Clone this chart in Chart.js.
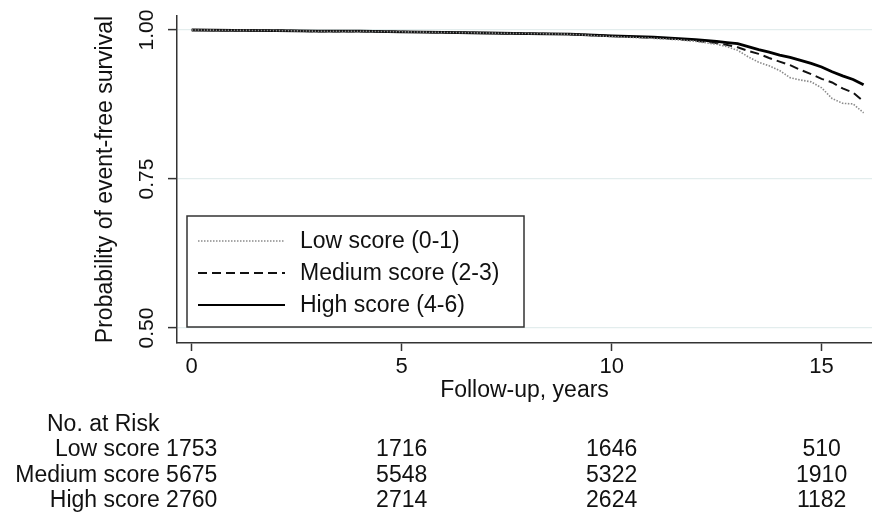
<!DOCTYPE html>
<html>
<head>
<meta charset="utf-8">
<script src="https://cdn.jsdelivr.net/npm/chart.js@4.4.1/dist/chart.umd.min.js"></script>
<style>
  html, body { margin: 0; padding: 0; background: #fff; }
  #chart { display: block; }
</style>
</head>
<body>
<canvas id="chart" width="872" height="513"></canvas>
<script>
// Follow-up times (years) at which the curves were read
const years = [0, 1, 2, 3, 4, 5, 6, 7, 8, 9, 10, 11, 11.5, 12, 12.5, 12.75, 13, 13.25, 13.5, 13.75, 14, 14.25, 14.5, 14.75, 15, 15.25, 15.5, 15.75, 16]

const lowScore = [1.000, 0.9995, 0.999, 0.998, 0.998, 0.997, 0.996, 0.995, 0.994, 0.993, 0.989, 0.986, 0.984, 0.981, 0.976, 0.972, 0.966, 0.955, 0.946, 0.940, 0.932, 0.920, 0.916, 0.913, 0.903, 0.885, 0.877, 0.876, 0.861]
const mediumScore = [1.000, 0.9995, 0.999, 0.998, 0.998, 0.997, 0.996, 0.995, 0.994, 0.993, 0.990, 0.987, 0.985, 0.982, 0.978, 0.975, 0.971, 0.965, 0.960, 0.953, 0.947, 0.941, 0.933, 0.926, 0.918, 0.912, 0.902, 0.895, 0.880]
const highScore = [1.000, 0.9995, 0.999, 0.998, 0.998, 0.997, 0.996, 0.995, 0.994, 0.993, 0.990, 0.988, 0.986, 0.984, 0.981, 0.979, 0.977, 0.972, 0.967, 0.963, 0.958, 0.954, 0.949, 0.944, 0.938, 0.930, 0.923, 0.917, 0.908]

const seriesLabels = ['Low score (0-1)', 'Medium score (2-3)', 'High score (4-6)']

const xTicks = [0, 5, 10, 15]
const yTicks = [0.5, 0.75, 1.0]

// Number at risk table
const riskTimes = [0, 5, 10, 15]
const riskGroups = ['Low score', 'Medium score', 'High score']
const riskLow = [1753, 1716, 1646, 510]
const riskMedium = [5675, 5548, 5322, 1910]
const riskHigh = [2760, 2714, 2624, 1182]

const FONT = "'Liberation Sans', Arial, Helvetica, sans-serif"

const toPoints = (vals) => years.map((t, i) => ({ x: t, y: vals[i] }))

// Legend drawn inside the plot, Stata style
const boxLegend = {
  id: 'boxLegend',
  afterDatasetsDraw(chart) {
    const ctx = chart.ctx
    const box = { x: 187, y: 216, w: 337, h: 111 }
    ctx.save()
    ctx.fillStyle = '#fff'
    ctx.fillRect(box.x, box.y, box.w, box.h)
    ctx.strokeStyle = '#333'
    ctx.lineWidth = 1.5
    ctx.strokeRect(box.x, box.y, box.w, box.h)
    ctx.font = '23px ' + FONT
    ctx.textBaseline = 'middle'
    ctx.fillStyle = '#111'
    chart.data.datasets.forEach((ds, i) => {
      const y = box.y + 25 + i * 32
      ctx.beginPath()
      ctx.strokeStyle = ds.borderColor
      ctx.lineWidth = Math.min(ds.borderWidth, 2)
      ctx.setLineDash(ds.borderDash || [])
      ctx.moveTo(198, y)
      ctx.lineTo(285, y)
      ctx.stroke()
      ctx.setLineDash([])
      ctx.fillText(ds.label, 300, y + 1)
    })
    ctx.restore()
  }
}

// "No. at Risk" table under the axis, aligned with the x scale
const riskTable = {
  id: 'riskTable',
  afterDraw(chart) {
    const ctx = chart.ctx
    const x = chart.scales.x
    const rows = [riskLow, riskMedium, riskHigh]
    ctx.save()
    ctx.font = '23px ' + FONT
    ctx.fillStyle = '#111'
    ctx.textBaseline = 'alphabetic'
    ctx.textAlign = 'left'
    ctx.fillText('No. at Risk', 47, 431)
    rows.forEach((row, r) => {
      const y = 456 + r * 25.5
      row.forEach((n, c) => {
        const px = x.getPixelForValue(riskTimes[c])
        ctx.textAlign = 'center'
        ctx.fillText(String(n), px, y)
        if (c === 0) {
          const half = ctx.measureText(String(n)).width / 2
          ctx.textAlign = 'right'
          ctx.fillText(riskGroups[r] + ' ', px - half, y)
        }
      })
    })
    ctx.restore()
  }
}

new Chart(document.getElementById('chart'), {
  type: 'line',
  data: {
    datasets: [
      {
        label: seriesLabels[0],
        data: toPoints(lowScore),
        borderColor: '#8a8a8a',
        borderWidth: 1.6,
        borderDash: [1.5, 1.5],
        pointRadius: 0
      },
      {
        label: seriesLabels[1],
        data: toPoints(mediumScore),
        borderColor: '#111',
        borderWidth: 2,
        borderDash: [9, 5],
        pointRadius: 0
      },
      {
        label: seriesLabels[2],
        data: toPoints(highScore),
        borderColor: '#000',
        borderWidth: 2.8,
        pointRadius: 0
      }
    ]
  },
  options: {
    responsive: false,
    animation: false,
    layout: { padding: { left: 0, top: 16, right: 0, bottom: 109 } },
    plugins: {
      legend: { display: false },
      tooltip: { enabled: false }
    },
    scales: {
      x: {
        type: 'linear',
        min: -0.35,
        max: 16.2,
        afterBuildTicks: (scale) => { scale.ticks = xTicks.map(v => ({ value: v })) },
        afterFit: (scale) => { scale.height = 61 },
        grid: { drawOnChartArea: false, tickLength: 8, tickColor: '#333', tickWidth: 1.5 },
        border: { color: '#333', width: 1.5 },
        ticks: { font: { family: FONT, size: 22 }, color: '#111', padding: 3, maxRotation: 0 },
        title: {
          display: true,
          text: 'Follow-up, years',
          font: { family: FONT, size: 23 },
          color: '#111',
          padding: { top: 0, bottom: 0 }
        }
      },
      y: {
        type: 'linear',
        min: 0.4748,
        max: 1.0235,
        afterBuildTicks: (scale) => { scale.ticks = yTicks.map(v => ({ value: v })) },
        afterFit: (scale) => { scale.width = 177 },
        grid: { color: '#e3eded', lineWidth: 1.2, tickLength: 9, tickColor: '#333', tickWidth: 1.5 },
        border: { color: '#333', width: 1.5 },
        ticks: {
          font: { family: FONT, size: 21 },
          color: '#111',
          minRotation: 90,
          maxRotation: 90,
          crossAlign: 'center',
          padding: 0,
          callback: (v) => v.toFixed(2)
        },
        title: {
          display: true,
          text: 'Probability of event-free survival',
          font: { family: FONT, size: 23 },
          color: '#111',
          padding: { top: 92, bottom: 0 }
        }
      }
    }
  },
  plugins: [boxLegend, riskTable]
})
</script>
</body>
</html>
